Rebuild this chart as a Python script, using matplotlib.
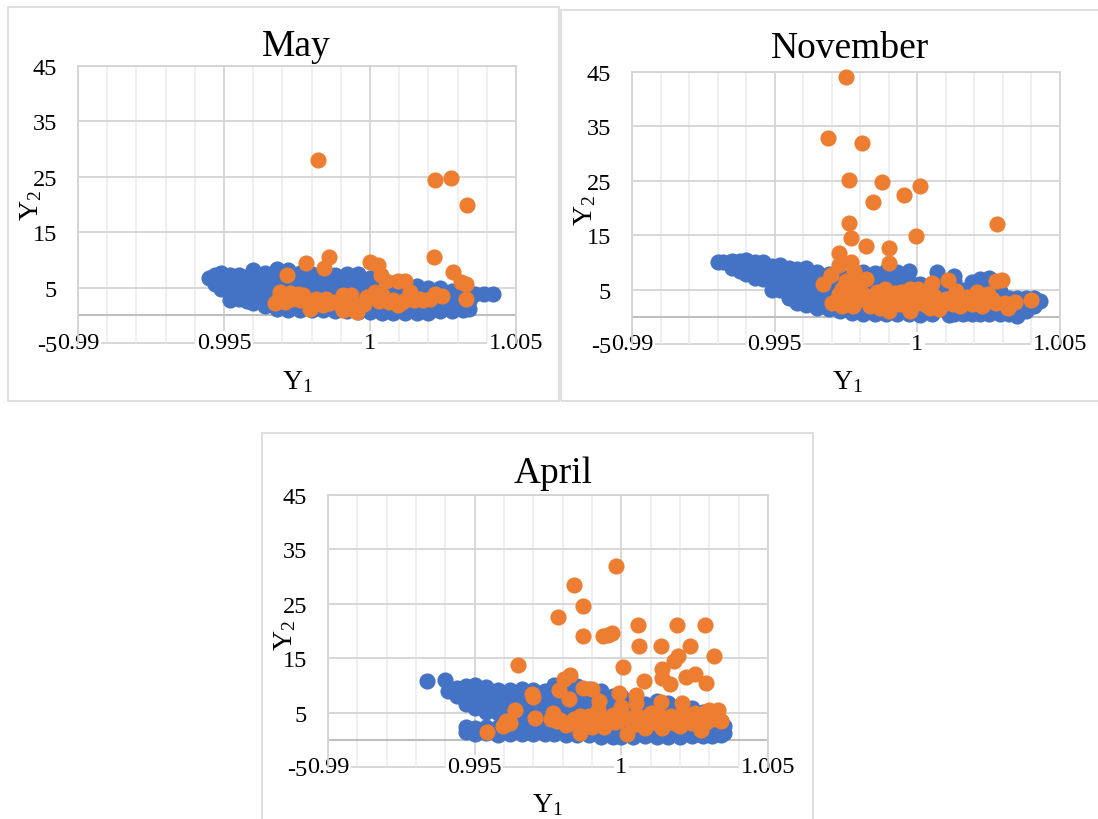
import matplotlib
matplotlib.use('Agg')
import matplotlib.pyplot as plt
from matplotlib.patches import Rectangle

plt.rcParams['font.family'] = ['Liberation Serif', 'DejaVu Serif']
plt.rcParams['mathtext.fontset'] = 'custom'
plt.rcParams['mathtext.rm'] = 'Liberation Serif'
plt.rcParams['mathtext.it'] = 'Liberation Serif'
plt.rcParams['mathtext.default'] = 'rm'

x_ticks = [0.99, 0.995, 1, 1.005]
x_labels = ['0.99', '0.995', '1', '1.005']
x_minor = [0.991, 0.992, 0.993, 0.994, 0.996, 0.997, 0.998, 0.999,
           1.001, 1.002, 1.003, 1.004]
y_ticks = [-5, 5, 15, 25, 35, 45]
y_labels = ['-5', '5', '15', '25', '35', '45']

# blue cloud, one y list per x column
may_blue_x = [0.9945, 0.9947, 0.9949, 0.9952, 0.9955, 0.9958, 0.9960, 0.9964, 0.9968, 0.9972,
              0.9976, 0.9980, 0.9984, 0.9988, 0.9992, 0.9996, 1.0000, 1.0004, 1.0008, 1.0012,
              1.0016, 1.0020, 1.0024, 1.0028, 1.0032, 1.0034, 1.0036, 1.0039, 1.0042]
may_blue_y = [[6.8], [5.6, 7.2], [4.8, 6.3, 7.7], [2.7, 4.2, 5.7, 7.2], [2.9, 4.4, 5.9, 7.2],
              [2.6, 4.1, 5.6, 7.0], [2.2, 3.7, 5.2, 6.7, 8.2], [1.7, 3.2, 4.7, 6.2, 7.7],
              [1.1, 2.6, 4.1, 5.6, 7.1, 8.3], [0.9, 2.4, 3.9, 5.4, 6.9, 8.2],
              [0.9, 2.4, 3.9, 5.4, 6.9, 7.6], [0.9, 2.4, 3.9, 5.4, 6.9, 7.4],
              [0.9, 2.4, 3.9, 5.4, 6.9, 7.4], [0.8, 2.3, 3.8, 5.3, 6.8, 7.2],
              [0.7, 2.2, 3.7, 5.2, 6.7, 7.4], [0.6, 2.1, 3.6, 5.1, 6.6, 7.4],
              [0.6, 2.1, 3.6, 5.1, 6.8], [0.5, 2.0, 3.5, 5.0, 6.4], [0.4, 1.9, 3.4, 4.9, 5.8],
              [0.5, 2.0, 3.5, 5.0, 6.0], [0.5, 2.0, 3.5, 5.2], [0.5, 2.0, 3.5, 5.0],
              [0.7, 2.2, 3.7, 4.9], [0.7, 2.2, 3.7, 4.3], [1.0, 2.5, 4.0], [1.2, 2.6, 4.0],
              [3.9], [3.9], [3.9]]
may_orange_x = [0.99823, 1.00221, 1.00278, 1.00331, 1.0022, 1.00285, 1.0031, 1.00328, 1.00328, 0.99716,
                0.99781, 0.99858, 0.99842, 1.0, 1.00026, 1.00038, 1.00055, 1.00095, 1.0012, 0.99674,
                0.99692, 0.9971, 0.99725, 0.99753, 0.99771, 0.99796, 0.99814, 0.99839, 0.99851, 0.99881,
                0.99906, 0.99936, 0.99906, 0.99955, 0.99936, 0.99979, 0.99991, 1.00016, 1.0004, 1.00065,
                1.00095, 1.0012, 1.00138, 1.00169, 1.00205, 1.00224, 1.00248, 0.9969, 0.9973, 0.9976,
                0.9980, 0.9983, 0.9986, 0.9992, 0.9995, 1.0003, 1.0008, 1.0011, 1.0015, 1.0018]
may_orange_y = [28.0, 24.4, 24.7, 20.0, 10.5, 7.9, 6.0, 5.6, 3.0, 7.2,
                9.5, 10.5, 8.5, 9.7, 9.1, 7.3, 6.2, 6.2, 6.2, 2.2,
                4.2, 2.4, 4.0, 3.9, 3.6, 1.2, 3.0, 1.8, 3.0, 2.4,
                3.6, 3.6, 0.9, 0.6, 1.2, 2.1, 3.3, 4.2, 3.6, 2.4,
                1.8, 2.7, 4.2, 3.0, 3.0, 3.9, 3.4, 3.0, 2.9, 2.8,
                2.2, 2.6, 2.3, 2.4, 2.0, 2.6, 2.8, 2.4, 2.8, 2.7]

nov_blue_x = [0.9930, 0.9932, 0.9935, 0.9938, 0.9940, 0.9943, 0.9946, 0.9949, 0.9952, 0.9955,
              0.9958, 0.9961, 0.9965, 0.9969, 0.9973, 0.9977, 0.9981, 0.9985, 0.9989, 0.9993,
              0.9997, 1.0001, 1.0005, 1.0007, 1.0011, 1.0013, 1.0016, 1.0019, 1.0022, 1.0025,
              1.0029, 1.0032, 1.0035, 1.0038, 1.0041, 1.0043]
nov_blue_y = [[10.0], [10.1], [8.9, 10.3], [8.5, 10.2], [7.8, 9.2, 10.5], [7.2, 8.7, 10.1],
              [7.0, 8.5, 10.0], [5.0, 6.5, 8.0, 9.4], [5.0, 6.5, 8.0, 9.5], [3.4, 4.9, 6.4, 7.9, 9.0],
              [2.6, 4.1, 5.6, 7.1, 8.8], [2.1, 3.6, 5.1, 6.6, 8.1, 8.9], [1.7, 3.2, 4.7, 6.2, 7.7, 8.3],
              [1.4, 2.9, 4.4, 5.9, 7.4, 7.9], [1.1, 2.6, 4.1, 5.6, 7.1, 7.6], [0.7, 2.2, 3.7, 5.2, 6.7, 7.6],
              [0.6, 2.1, 3.6, 5.1, 6.6, 8.2], [0.6, 2.1, 3.6, 5.1, 6.6, 8.0], [0.5, 2.0, 3.5, 5.0, 6.5, 8.5],
              [0.5, 2.0, 3.5, 5.0, 6.5, 8.2], [0.5, 2.0, 3.5, 5.0, 6.5, 8.5], [0.4, 1.9, 3.4, 4.9, 6.0],
              [0.5, 2.0, 3.5, 5.0], [8.2, 6.8, 5.4], [0.4, 1.9, 3.4, 4.8, 5.5], [0.5, 2.0, 3.5, 5.0, 6.5, 7.5],
              [0.5, 2.0, 3.5, 5.0], [0.5, 2.0, 3.5, 5.0, 6.4], [0.5, 2.0, 3.5, 5.0, 6.5, 7.0],
              [0.5, 2.0, 3.5, 5.0, 6.4, 7.2], [0.5, 2.0, 3.5, 4.8], [0.6, 2.1, 3.5], [0.2, 1.8, 3.5],
              [1.0, 2.4, 3.4], [2.0, 3.4], [2.9]]
nov_orange_x = [0.99749, 0.99688, 0.99806, 0.99761, 0.99877, 0.99954, 1.0001, 0.99843, 0.99762, 1.00279,
                0.99768, 0.99994, 0.99819, 0.999, 0.99727, 0.99899, 0.99725, 0.99767, 0.9967, 0.99697,
                0.99779, 0.99819, 0.99737, 0.99785, 0.99809, 0.997, 0.99737, 0.99773, 0.99725, 0.99773,
                1.00052, 1.00108, 1.00277, 1.00295, 1.004, 1.00343, 0.99858, 0.99888, 0.99834, 0.9987,
                0.999, 0.99925, 0.99943, 0.99973, 1.00001, 0.99976, 0.99967, 1.00016, 1.00046, 1.00076,
                1.00058, 1.00101, 1.00137, 1.00125, 1.00149, 1.00174, 1.0021, 1.00192, 1.00228, 1.00246,
                1.00277, 1.00307, 1.00319, 0.9991, 0.9994, 0.9986, 0.9975, 1.0003, 1.0009, 1.0016,
                0.9972, 0.9976, 0.9979, 0.9983, 0.9989, 0.9996, 1.0006, 1.0012, 1.002, 1.0026,
                0.9985, 0.9988, 0.9991, 0.9994, 0.9997, 1.0000, 1.0003, 1.0006, 1.0009, 1.0012,
                1.0015, 1.0018, 1.0021, 1.0024, 0.9992, 0.9995, 0.9998, 1.0001, 1.0004, 1.0014, 1.0023]
nov_orange_y = [44.0, 32.9, 32.0, 25.2, 24.7, 22.4, 24.0, 21.1, 17.2, 17.0,
                14.5, 14.8, 13.1, 12.6, 11.8, 9.8, 9.6, 10.0, 6.1, 7.7,
                8.5, 7.0, 5.1, 6.3, 4.2, 2.5, 2.0, 2.0, 4.2, 4.5,
                6.3, 6.7, 6.5, 6.7, 3.1, 2.8, 4.5, 5.1, 2.0, 1.7,
                1.1, 3.6, 4.5, 5.1, 5.1, 1.1, 3.2, 3.2, 1.7, 1.4,
                3.8, 3.2, 4.7, 2.3, 2.0, 3.6, 4.5, 2.3, 2.0, 4.2,
                2.6, 2.6, 1.7, 3.0, 2.5, 3.2, 6.5, 2.5, 2.4, 3.2,
                3.0, 3.5, 3.0, 3.3, 3.4, 3.7, 3.0, 3.5, 3.2, 3.3,
                3.0, 2.6, 2.8, 2.4, 2.7, 2.5, 2.2, 2.7, 2.5, 2.6,
                2.9, 2.7, 3.0, 2.8, 4.4, 4.6, 4.2, 4.0, 4.3, 3.9, 3.9]

apr_blue_x = [0.99338, 0.9940, 0.9941, 0.9944, 0.9947, 0.9950, 0.9954, 0.9958, 0.9962, 0.9966,
              0.9970, 0.9974, 0.9977, 0.9981, 0.9985, 0.9989, 0.9993, 0.9997, 1.0000, 1.0004,
              1.0008, 1.0012, 1.0016, 1.0020, 1.0024, 1.0028, 1.0031, 1.0034, 1.0035]
apr_blue_y = [[10.9], [11.0], [9.0], [8.0, 9.5], [1.4, 2.3, 6.5, 8.0, 9.8], [1.0, 2.2, 5.8, 7.2, 8.6, 10.0],
              [1.2, 2.4, 5.2, 6.7, 8.2, 9.7], [0.9, 2.4, 5.0, 6.5, 8.0, 9.2], [1.0, 2.5, 4.0, 5.5, 7.0, 8.5, 9.2],
              [1.0, 2.5, 4.0, 5.5, 7.0, 8.5, 9.3], [1.0, 2.5, 4.0, 5.5, 7.0, 8.5, 9.1], [1.0, 2.5, 4.0, 5.5, 7.0, 8.5, 8.9],
              [1.0, 2.5, 4.0, 5.5, 7.0, 8.5, 10.0], [0.9, 2.4, 3.9, 5.4, 6.9, 8.4, 10.0], [0.9, 2.4, 3.9, 5.4, 6.9, 8.4, 9.8],
              [0.8, 2.3, 3.8, 5.3, 6.8, 8.3, 9.4], [0.5, 2.0, 3.5, 5.0, 6.5, 8.0, 8.9], [0.5, 2.0, 3.5, 5.0, 6.5, 8.0],
              [0.5, 2.0, 3.5, 5.0, 6.5, 8.0], [0.6, 2.1, 3.6, 5.1, 6.7], [0.7, 2.2, 3.7, 5.2, 6.6], [0.5, 2.0, 3.5, 5.0, 6.5, 7.2],
              [0.6, 2.1, 3.6, 5.1, 6.8], [0.6, 2.1, 3.6, 5.1, 6.3], [0.7, 2.2, 3.7, 5.2, 5.8], [0.7, 2.2, 3.7, 5.2],
              [0.7, 2.2, 3.7, 5.0], [0.8, 2.2, 3.5], [1.2, 2.5]]
apr_orange_x = [0.99981, 0.99837, 0.99869, 0.99784, 1.00057, 1.00189, 1.00284, 0.99868, 0.99937, 0.99953,
                0.99968, 1.00059, 1.00135, 1.00233, 1.00316, 1.00192, 1.0018, 0.99649, 1.00004, 1.00137,
                1.00138, 1.00165, 1.00076, 1.0022, 1.0025, 1.00288, 0.99825, 0.99803, 0.99786, 0.99822,
                0.99871, 0.999, 0.99925, 0.99694, 0.99698, 0.99993, 1.0005, 1.0005, 1.00135, 1.00206,
                0.99998, 0.99636, 0.99706, 0.9962, 0.99595, 0.99607, 0.99541, 0.99767, 0.9978, 0.9981,
                0.9984, 0.9986, 0.9988, 0.999, 0.9992, 0.9994, 0.9996, 0.9998, 1.0002, 1.0004,
                1.0006, 1.0008, 1.001, 1.0012, 1.0014, 1.0016, 1.0018, 1.002, 1.0022, 1.0024,
                1.0026, 1.0027, 1.0029, 1.003, 1.0033, 1.0031, 1.0034, 0.9976, 0.9979, 1.0,
                0.9983, 0.9987, 0.9991, 0.9995, 0.9999, 1.0003, 1.0007, 1.0011, 1.0015, 1.0019,
                1.0023, 1.0028, 1.0032, 0.9986, 0.9989, 0.9993, 0.9997, 1.0001, 1.0005, 1.0009,
                1.0013, 1.0017, 1.0021, 1.0025, 1.0029, 1.0014, 1.0020, 1.0031]
apr_orange_y = [31.9, 28.5, 24.6, 22.6, 21.1, 21.1, 21.1, 19.0, 19.0, 19.2,
                19.7, 17.3, 17.3, 17.2, 15.4, 15.4, 14.4, 13.8, 13.4, 13.1,
                11.3, 10.3, 10.8, 11.5, 12.1, 10.4, 11.9, 11.2, 9.2, 7.5,
                9.6, 9.4, 7.1, 8.5, 7.8, 8.6, 8.3, 6.7, 6.9, 6.7,
                6.0, 5.4, 4.0, 3.0, 2.5, 3.4, 1.4, 4.9, 3.5, 2.7,
                3.9, 1.3, 3.4, 2.3, 5.5, 2.3, 3.9, 3.2, 1.1, 2.8,
                4.2, 2.2, 5.0, 3.0, 2.1, 4.0, 3.0, 2.5, 4.5, 3.0,
                4.6, 1.8, 3.2, 5.5, 5.4, 3.9, 3.5, 3.8, 3.6, 4.0,
                3.3, 2.9, 3.6, 3.4, 3.5, 3.9, 2.9, 3.7, 3.2, 3.8,
                3.4, 4.4, 4.5, 4.3, 4.4, 4.2, 4.6, 4.2, 4.5, 4.3,
                4.6, 4.4, 5.2, 5.0, 5.2, 2.6, 3.6, 4.8]

W, H = 1098, 820
fig = plt.figure(figsize=(W / 100, H / 100), dpi=100, facecolor='white')


def panel(name, blue_x, blue_y, orange_x, orange_y, frame, box, title_xy, xlab_xy, ylab_xy):
    # frame and box are left, top, right, bottom in image pixels
    fig.add_artist(Rectangle((frame[0] / W, 1 - frame[3] / H), (frame[2] - frame[0]) / W,
                             (frame[3] - frame[1]) / H, transform=fig.transFigure,
                             fill=False, ec='#D9D9D9', lw=1.2))
    ax = fig.add_axes([box[0] / W, 1 - box[3] / H, (box[2] - box[0]) / W, (box[3] - box[1]) / H])
    ax.set_xlim(0.99, 1.005)
    ax.set_ylim(-5, 45)
    ax.set_xticks(x_ticks)
    ax.set_xticklabels(x_labels, fontsize=17.5, va='center')
    ax.set_xticks(x_minor, minor=True)
    ax.set_yticks(y_ticks)
    ax.set_yticklabels(y_labels, fontsize=17.5)
    ax.tick_params(which='both', length=0)
    ax.tick_params(axis='x', pad=0)
    ax.tick_params(axis='y', pad=15)
    ax.grid(True, which='major', color='#D4D4D4', lw=1.3)
    ax.grid(True, which='minor', axis='x', color='#EBEBEB', lw=1.1)
    ax.set_axisbelow(True)
    for s in ax.spines.values():
        s.set_color('#D4D4D4')
        s.set_linewidth(1.3)
    # labels sit on the bottom gridline, white behind them breaks the line
    ax.spines['bottom'].set_visible(False)
    ax.yaxis.get_gridlines()[0].set_visible(False)
    ax.axhline(-5, color='#D4D4D4', lw=1.3, zorder=0.1, clip_on=False)
    for lab in ax.get_xticklabels():
        lab.set_bbox(dict(facecolor='white', edgecolor='none', pad=1))
    ax.axhline(0, color='#BFBFBF', lw=1.5, zorder=1)

    bx = [x for x, ys in zip(blue_x, blue_y) for _ in ys]
    by = [y for ys in blue_y for y in ys]
    ax.scatter(bx, by, s=135, color='#4472C4', linewidths=0, zorder=3, clip_on=False)
    ax.scatter(orange_x, orange_y, s=135, color='#ED7D31', linewidths=0, zorder=4, clip_on=False)

    fig.text(title_xy[0] / W, 1 - title_xy[1] / H, name, fontsize=27, ha='center', va='center')
    fig.text(xlab_xy[0] / W, 1 - xlab_xy[1] / H, 'Y$_1$', fontsize=20, ha='center', va='center')
    fig.text(ylab_xy[0] / W, 1 - ylab_xy[1] / H, 'Y$_2$', fontsize=20, ha='center', va='center', rotation=90)


panel('May', may_blue_x, may_blue_y, may_orange_x, may_orange_y,
      (8, 8, 559, 402), (78, 67, 516, 344), (296, 47), (297, 382), (31, 205))
panel('November', nov_blue_x, nov_blue_y, nov_orange_x, nov_orange_y,
      (561, 11, 1102, 402), (632, 73, 1060, 345), (850, 49), (847, 382), (585, 210))
panel('April', apr_blue_x, apr_blue_y, apr_orange_x, apr_orange_y,
      (262, 434, 813, 824), (328, 496, 768, 768), (553, 474), (547, 805), (285, 635))

fig.savefig('out.png', dpi=100)
